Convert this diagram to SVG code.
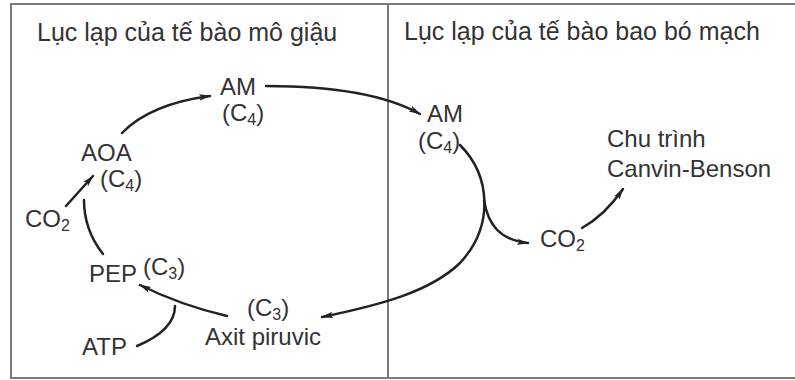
<svg xmlns="http://www.w3.org/2000/svg" width="795" height="380" viewBox="0 0 795 380">
<defs>
<marker id="ah" viewBox="0 0 12 8" refX="11" refY="4" markerWidth="12" markerHeight="8" markerUnits="userSpaceOnUse" orient="auto">
<path d="M0,0.8 L12,4 L0,7.2 L2.5,4 Z" fill="#222"/>
</marker>
<style>
text{font-family:"Liberation Sans",Arial,sans-serif;fill:#333;font-size:24px}
.t{font-size:25px}
.s{font-size:16px}
.c{fill:none;stroke:#222;stroke-width:2.5;stroke-linecap:round}
.b{fill:none;stroke:#7a7a7a;stroke-width:2}
</style>
</defs>
<rect width="795" height="380" fill="#fff"/>
<g id="frame">
<path class="b" d="M795,4 H11 V378 H795"/>
<line class="b" x1="388" y1="4" x2="388" y2="378" stroke="#444"/>
</g>
<g id="title-left"><text x="37" y="41" class="t">Lục lạp của tế bào mô giậu</text></g>
<g id="title-right"><text x="404" y="40" class="t">Lục lạp của tế bào bao bó mạch</text></g>
<g id="am-left"><text x="220" y="95">AM</text><text x="222" y="121">(C<tspan class="s" dy="4">4</tspan><tspan dy="-4">)</tspan></text></g>
<g id="aoa"><text x="81" y="161">AOA</text><text x="100" y="187">(C<tspan class="s" dy="4">4</tspan><tspan dy="-4">)</tspan></text></g>
<g id="co2-left"><text x="25" y="227">CO<tspan class="s" dy="4">2</tspan></text></g>
<g id="pep"><text x="89" y="282">PEP</text><text x="143" y="275">(C<tspan class="s" dy="4">3</tspan><tspan dy="-4">)</tspan></text></g>
<g id="axit"><text x="247" y="316">(C<tspan class="s" dy="4">3</tspan><tspan dy="-4">)</tspan></text><text x="205" y="345">Axit piruvic</text></g>
<g id="atp"><text x="82" y="355">ATP</text></g>
<g id="am-right"><text x="427" y="122">AM</text><text x="418" y="149">(C<tspan class="s" dy="4">4</tspan><tspan dy="-4">)</tspan></text></g>
<g id="calvin"><text x="607" y="147">Chu trình</text><text x="607" y="177">Canvin-Benson</text></g>
<g id="co2-right"><text x="540" y="247">CO<tspan class="s" dy="4">2</tspan></text></g>
<g id="connectors">
<path class="c" d="M122,133 Q150,104 210,96" marker-end="url(#ah)"/>
<path class="c" d="M266,86 Q370,86 420,114" marker-end="url(#ah)"/>
<path class="c" d="M66,206 L93,176" marker-end="url(#ah)"/>
<path class="c" d="M84,200 Q84,230 103,254"/>
<path class="c" d="M227,316 Q180,305 140,285" marker-end="url(#ah)"/>
<path class="c" d="M137,346 Q175,330 175,306"/>
<path class="c" d="M460,145 C490,175 495,225 460,263 C430,292 380,305 322,317" marker-end="url(#ah)"/>
<path class="c" d="M484,200 C488,225 500,240 528,243" marker-end="url(#ah)"/>
<path class="c" d="M582,228 Q605,215 623,189" marker-end="url(#ah)"/>
</g>
</svg>
